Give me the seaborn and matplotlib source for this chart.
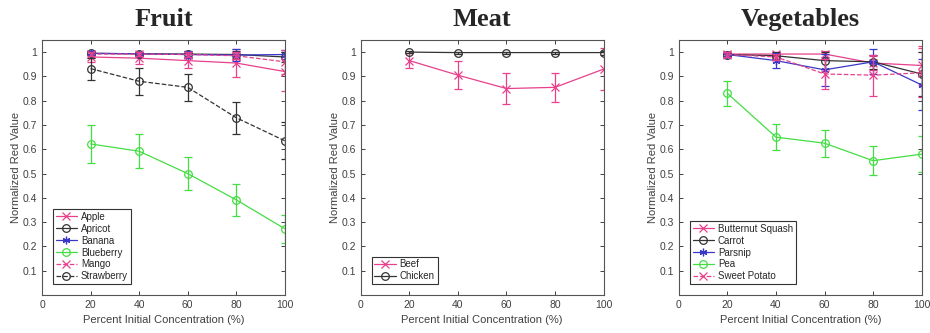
import matplotlib
matplotlib.use("Agg")
import matplotlib.pyplot as plt
import matplotlib.ticker as mticker
import seaborn as sns
import pandas as pd

# x positions (percent initial concentration)
conc = [20, 40, 60, 80, 100]

# Fruit
apple = [0.980, 0.975, 0.965, 0.955, 0.920]
apple_err = [0.020, 0.022, 0.032, 0.058, 0.082]
apricot = [0.995, 0.993, 0.992, 0.990, 0.980]
apricot_err = [0.008, 0.008, 0.012, 0.015, 0.020]
banana = [0.995, 0.993, 0.990, 0.988, 0.990]
banana_err = [0.008, 0.008, 0.015, 0.025, 0.020]
blueberry = [0.622, 0.592, 0.500, 0.392, 0.273]
blueberry_err = [0.080, 0.070, 0.068, 0.065, 0.058]
mango = [0.992, 0.992, 0.990, 0.985, 0.960]
mango_err = [0.008, 0.008, 0.012, 0.015, 0.050]
strawberry = [0.932, 0.880, 0.855, 0.730, 0.635]
strawberry_err = [0.045, 0.055, 0.055, 0.066, 0.077]

# Meat
beef = [0.965, 0.905, 0.850, 0.855, 0.930]
beef_err = [0.030, 0.057, 0.062, 0.060, 0.085]
chicken = [1.000, 0.998, 0.998, 0.998, 0.998]
chicken_err = [0.004, 0.004, 0.004, 0.004, 0.008]

# Vegetables
squash = [0.992, 0.992, 0.992, 0.955, 0.945]
squash_err = [0.008, 0.010, 0.012, 0.030, 0.080]
carrot = [0.990, 0.985, 0.965, 0.960, 0.910]
carrot_err = [0.008, 0.015, 0.035, 0.030, 0.090]
parsnip = [0.990, 0.965, 0.927, 0.960, 0.865]
parsnip_err = [0.005, 0.030, 0.065, 0.052, 0.105]
pea = [0.830, 0.650, 0.625, 0.553, 0.580]
pea_err = [0.052, 0.055, 0.055, 0.060, 0.073]
sweet_potato = [0.990, 0.980, 0.910, 0.905, 0.915]
sweet_potato_err = [0.010, 0.012, 0.062, 0.085, 0.100]

pink = "#e8408c"
black = "#333333"
blue = "#3838c8"
green = "#44dd44"
asterisk = (6, 2, 0)

panels = [
    ("Fruit", [
        ("Apple", apple, apple_err, pink, "x", "-"),
        ("Apricot", apricot, apricot_err, black, "o", "-"),
        ("Banana", banana, banana_err, blue, asterisk, "-"),
        ("Blueberry", blueberry, blueberry_err, green, "o", "-"),
        ("Mango", mango, mango_err, pink, "x", "--"),
        ("Strawberry", strawberry, strawberry_err, black, "o", "--"),
    ]),
    ("Meat", [
        ("Beef", beef, beef_err, pink, "x", "-"),
        ("Chicken", chicken, chicken_err, black, "o", "-"),
    ]),
    ("Vegetables", [
        ("Butternut Squash", squash, squash_err, pink, "x", "-"),
        ("Carrot", carrot, carrot_err, black, "o", "-"),
        ("Parsnip", parsnip, parsnip_err, blue, asterisk, "-"),
        ("Pea", pea, pea_err, green, "o", "-"),
        ("Sweet Potato", sweet_potato, sweet_potato_err, pink, "x", "--"),
    ]),
]

sns.set_style("ticks")
plt.rcParams['font.family'] = ['Liberation Sans', 'DejaVu Sans']

fig = plt.figure(figsize=(9.3, 3.33), dpi=100)
lefts = [0.0452, 0.388, 0.730]
txt = "#404040"

for left, (title, series) in zip(lefts, panels):
    ax = fig.add_axes([left, 0.114, 0.261, 0.766])
    for name, vals, err, col, mk, ls in series:
        df = pd.DataFrame({"conc": conc, "val": vals})
        ax.errorbar(conc, vals, yerr=err, fmt="none", ecolor=col,
                    elinewidth=0.9, capsize=3, capthick=0.9)
        sns.lineplot(data=df, x="conc", y="val", ax=ax, color=col,
                     marker=mk, linestyle=ls, linewidth=0.9,
                     markersize=5.5, markerfacecolor="none",
                     markeredgecolor=col, markeredgewidth=0.9,
                     label=name)
    ax.set_xlim(0, 100)
    ax.set_ylim(0, 1.05)
    ax.set_xticks([0, 20, 40, 60, 80, 100])
    ax.set_yticks([0.1, 0.2, 0.3, 0.4, 0.5, 0.6, 0.7, 0.8, 0.9, 1.0])
    ax.yaxis.set_major_formatter(mticker.FormatStrFormatter('%g'))
    ax.tick_params(direction="in", top=True, right=True, length=3,
                   labelsize=7.5, colors=txt, width=0.7)
    for sp in ax.spines.values():
        sp.set_color("#555555")
        sp.set_linewidth(0.8)
    ax.set_xlabel("Percent Initial Concentration (%)", fontsize=8, color=txt)
    ax.set_ylabel("Normalized Red Value", fontsize=8, color=txt, labelpad=1)
    ax.set_title(title, fontsize=19, fontweight="bold",
                 family=["Liberation Serif", "DejaVu Serif"], pad=10)
    leg = ax.legend(loc="lower left", fontsize=7, frameon=True, fancybox=False,
                    edgecolor="#333333", framealpha=1, handlelength=2.2,
                    labelspacing=0.2, borderpad=0.3, borderaxespad=1.1,
                    handletextpad=0.4)
    leg.get_frame().set_linewidth(0.8)

fig.savefig("out.png", dpi=100)
